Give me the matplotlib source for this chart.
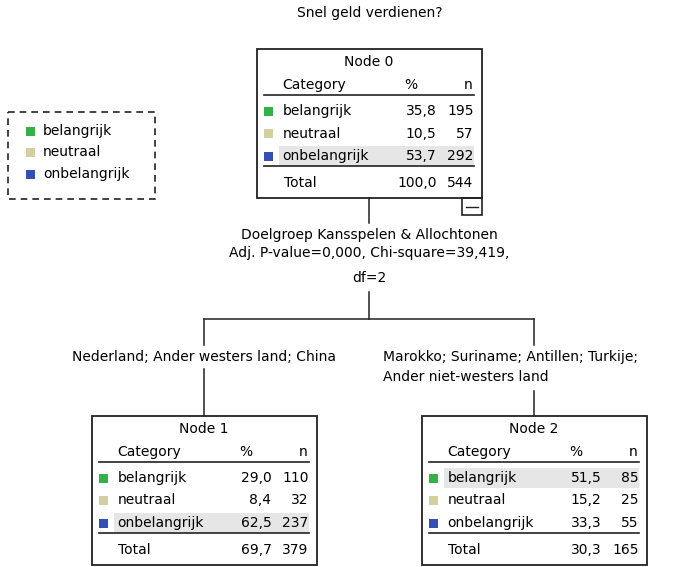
import matplotlib
matplotlib.use("Agg")
import matplotlib.pyplot as plt
from matplotlib.patches import Rectangle

# Data
title = "Snel geld verdienen?"
categories = ["belangrijk", "neutraal", "onbelangrijk"]
colors = ["#34b04a", "#d3cf9e", "#3550b4"]

node0_pct = [35.8, 10.5, 53.7]
node0_n = [195, 57, 292]
node0_total = (100.0, 544)

node1_pct = [29.0, 8.4, 62.5]
node1_n = [110, 32, 237]
node1_total = (69.7, 379)

node2_pct = [51.5, 15.2, 33.3]
node2_n = [85, 25, 55]
node2_total = (30.3, 165)

split_text = ["Doelgroep Kansspelen & Allochtonen",
              "Adj. P-value=0,000, Chi-square=39,419,",
              "df=2"]
branch_left = "Nederland; Ander westers land; China"
branch_right = "Marokko; Suriname; Antillen; Turkije;\nAnder niet-westers land"

FS = 10
fig = plt.figure(figsize=(6.83, 5.67), dpi=100)
ax = fig.add_axes([0, 0, 1, 1])
ax.set_xlim(0, 683)
ax.set_ylim(567, 0)
ax.axis("off")

W, H = 225, 149


def fmt(v):
    return f"{v:.1f}".replace(".", ",")


def draw_node(cx, top, name, pct, n, total):
    left = cx - W / 2
    ax.add_patch(Rectangle((left, top), W, H, fill=False, ec="#222222", lw=1.3))
    ax.text(cx, top + 13, name, ha="center", va="center", fontsize=FS)
    ax.text(left + 26, top + 36, "Category", ha="left", va="center", fontsize=FS)
    ax.text(left + 154, top + 36, "%", ha="center", va="center", fontsize=FS)
    ax.text(left + 216, top + 36, "n", ha="right", va="center", fontsize=FS)
    ax.plot([left + 7, left + 217], [top + 46, top + 46], color="#222222", lw=1.2)
    big = max(range(len(pct)), key=lambda i: pct[i])
    for i, cat in enumerate(categories):
        y = top + 62 + i * 22.5
        if i == big:
            ax.add_patch(Rectangle((left + 22, y - 10), 195, 20, color="#e6e6e6", lw=0))
        ax.add_patch(Rectangle((left + 7, y - 4.5), 9, 9, color=colors[i], lw=0))
        ax.text(left + 26, y, cat, ha="left", va="center", fontsize=FS)
        ax.text(left + 180, y, fmt(pct[i]), ha="right", va="center", fontsize=FS)
        ax.text(left + 217, y, str(n[i]), ha="right", va="center", fontsize=FS)
    ax.plot([left + 7, left + 217], [top + 117, top + 117], color="#222222", lw=1.2)
    ax.text(left + 27, top + 134, "Total", ha="left", va="center", fontsize=FS)
    ax.text(left + 180, top + 134, fmt(total[0]), ha="right", va="center", fontsize=FS)
    ax.text(left + 217, top + 134, str(total[1]), ha="right", va="center", fontsize=FS)


ax.text(370, 13, title, ha="center", va="center", fontsize=FS)

# legend
ax.add_patch(Rectangle((8, 112), 147, 87, fill=False, ec="#222222", lw=1.2, ls=(0, (4, 3))))
for i, cat in enumerate(categories):
    y = 131 + i * 21.5
    ax.add_patch(Rectangle((26, y - 4.5), 9, 9, color=colors[i], lw=0))
    ax.text(43, y, cat, ha="left", va="center", fontsize=FS)

# nodes
draw_node(369, 49, "Node 0", node0_pct, node0_n, node0_total)
draw_node(204, 416, "Node 1", node1_pct, node1_n, node1_total)
draw_node(534, 416, "Node 2", node2_pct, node2_n, node2_total)

# collapse button
ax.add_patch(Rectangle((462, 198), 20, 17, fill=False, ec="#222222", lw=1.2))
ax.plot([466, 478], [206.5, 206.5], color="#222222", lw=1.0)

# connectors
lc = dict(color="#222222", lw=1.1)
ax.plot([369, 369], [198, 223], **lc)
for i, line in enumerate(split_text):
    ax.text(369, [235, 253, 278][i], line, ha="center", va="center", fontsize=FS)
ax.plot([369, 369], [292, 319], **lc)
ax.plot([204, 534], [319, 319], **lc)
ax.plot([204, 204], [319, 345], **lc)
ax.plot([534, 534], [319, 345], **lc)
ax.text(204, 357, branch_left, ha="center", va="center", fontsize=FS)
ax.text(383, 367, branch_right, ha="left", va="center", fontsize=FS, linespacing=1.6)
ax.plot([204, 204], [369, 416], **lc)
ax.plot([534, 534], [391, 416], **lc)

fig.savefig("out.png", dpi=100, facecolor="white")
